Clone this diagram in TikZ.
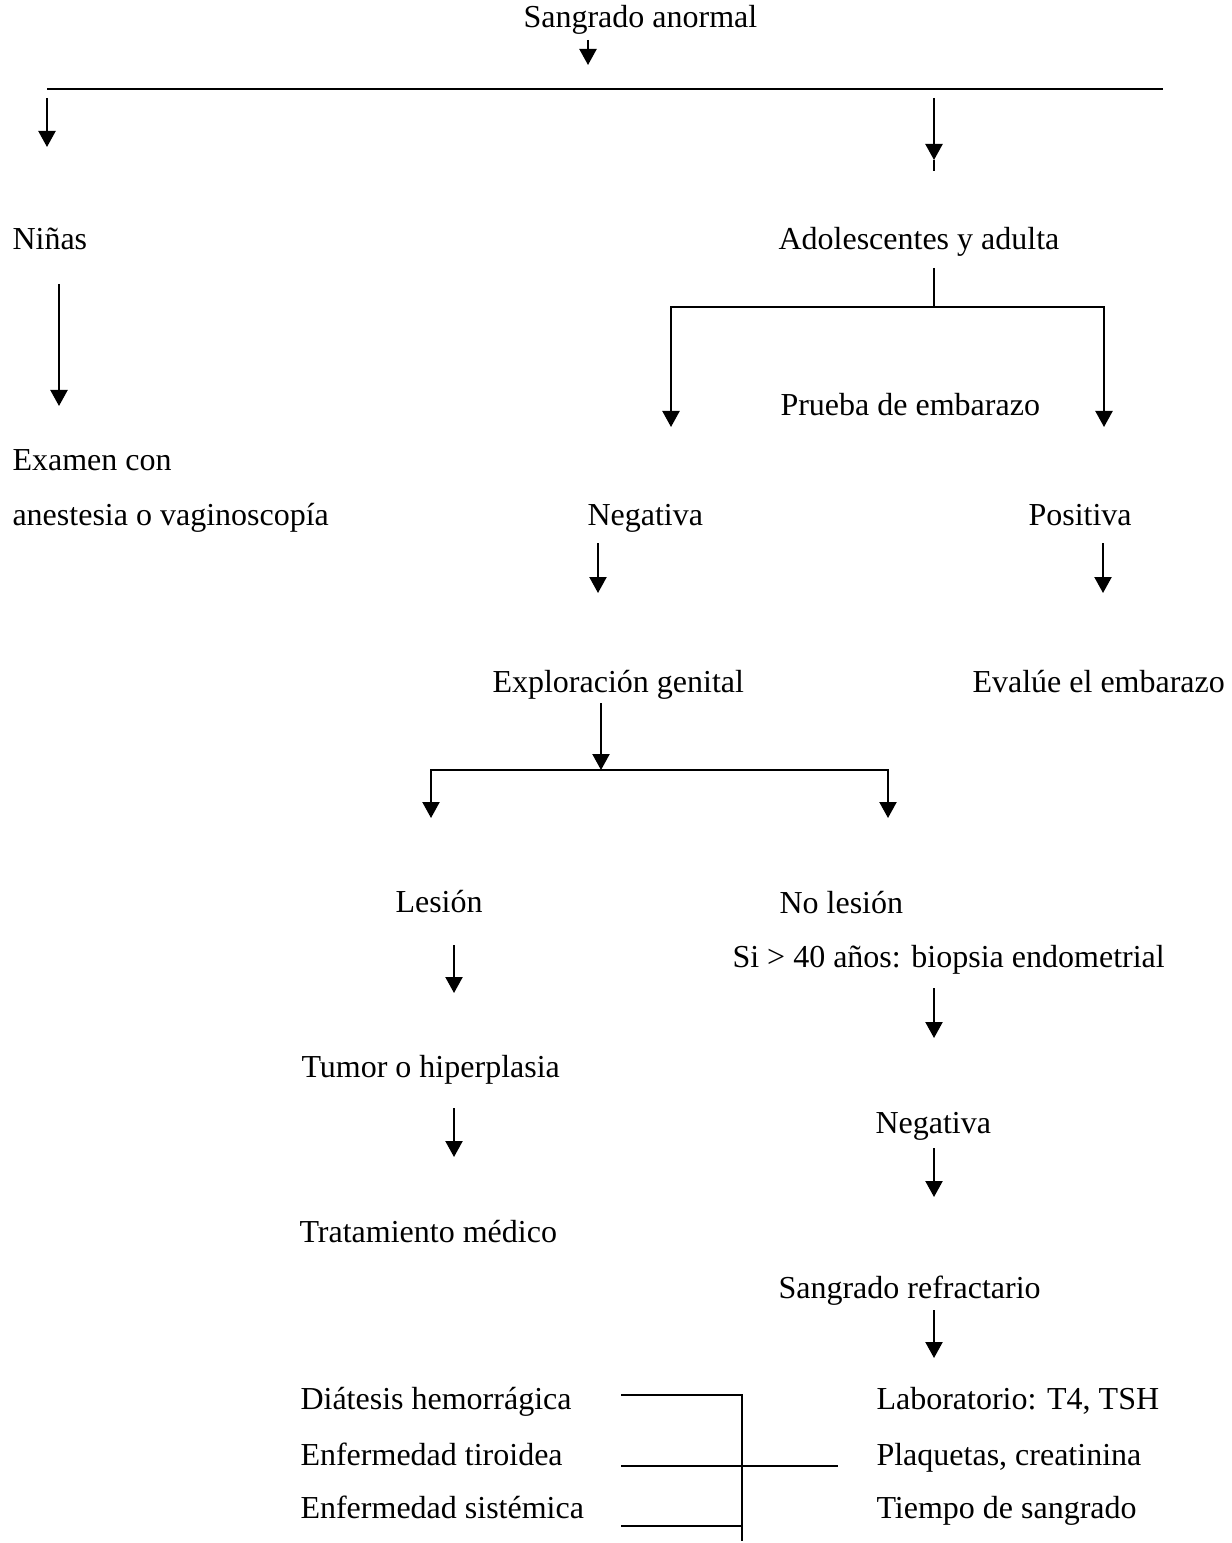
\documentclass[tikz,border=0pt]{standalone}
\usepackage{fontspec}
\setmainfont{Liberation Serif}
\usetikzlibrary{arrows.meta}
\tikzset{
  txt/.style={anchor=base west, inner sep=0pt, font=\fontsize{12}{14}\selectfont},
  ln/.style={line width=0.75pt, line cap=butt},
  arr/.style={ln, -{Triangle[width=6.4pt,length=6pt]}},
  arr2/.style={ln, {Triangle[width=6.4pt,length=6pt]}-{Triangle[width=6.4pt,length=6pt]}},
}
\begin{document}
\begin{tikzpicture}[x=0.375pt, y=-0.375pt]
\useasboundingbox (0,0) rectangle (1232,1543);
% texts
\node[txt] (sa) at (523,28) {Sangrado anormal};
\node[txt] (ninas) at (12,250) {Niñas};
\node[txt] (adol) at (778,250) {Adolescentes y adulta};
\node[txt] (prueba) at (780,415) {Prueba de embarazo};
\node[txt] (exa) at (12,471) {Examen con};
\node[txt] (exb) at (12,525) {anestesia o vaginoscopía};
\node[txt] (neg) at (587,525) {Negativa};
\node[txt] (pos) at (1028,525) {Positiva};
\node[txt] (expl) at (492,692) {Exploración genital};
\node[txt] (eval) at (972,692) {Evalúe el embarazo};
\node[txt] (les) at (395,912) {Lesión};
\node[txt] (noles) at (779,913) {No lesión};
\node[txt] (si) at (732,967) {Si > 40 años: biopsia endometrial};
\node[txt] (tumor) at (301,1077) {Tumor o hiperplasia};
\node[txt] (neg2) at (875,1133) {Negativa};
\node[txt] (trat) at (299,1242) {Tratamiento médico};
\node[txt] (refr) at (778,1298) {Sangrado refractario};
\node[txt] (dia) at (300,1409) {Diátesis hemorrágica};
\node[txt] (tir) at (300,1465) {Enfermedad tiroidea};
\node[txt] (sis) at (300,1518) {Enfermedad sistémica};
\node[txt] (lab) at (876,1409) {Laboratorio: T4, TSH};
\node[txt] (plaq) at (876,1465) {Plaquetas, creatinina};
\node[txt] (tiem) at (876,1518) {Tiempo de sangrado};
% coordinates
\coordinate (t1) at (588,40);   \coordinate (t2) at (588,65);
\coordinate (hl) at (47,89);    \coordinate (hr) at (1163,89);
\coordinate (l1) at (47,98);    \coordinate (l2) at (47,147);
\coordinate (r1) at (934,98);   \coordinate (r2) at (934,160);  \coordinate (r3) at (934,171);
\coordinate (n1) at (59,284);   \coordinate (n2) at (59,406);
\coordinate (a1) at (934,268);  \coordinate (a2) at (934,307);
\coordinate (aL) at (671,307);  \coordinate (aR) at (1104,307);
\coordinate (aL2) at (671,427); \coordinate (aR2) at (1104,427);
\coordinate (g1) at (598,543);  \coordinate (g2) at (598,593);
\coordinate (p1) at (1103,543); \coordinate (p2) at (1103,593);
\coordinate (e1) at (601,703);  \coordinate (e2) at (601,770);
\coordinate (eL) at (431,770);  \coordinate (eR) at (888,770);
\coordinate (eL2) at (431,818); \coordinate (eR2) at (888,818);
\coordinate (s1) at (454,945);  \coordinate (s2) at (454,993);
\coordinate (u1) at (454,1108); \coordinate (u2) at (454,1157);
\coordinate (b1) at (934,988);  \coordinate (b2) at (934,1038);
\coordinate (c1) at (934,1148); \coordinate (c2) at (934,1197);
\coordinate (d1) at (934,1310); \coordinate (d2) at (934,1358);
\coordinate (k1) at (621,1395); \coordinate (k2) at (742,1395); \coordinate (k3) at (742,1541);
\coordinate (m1) at (621,1466); \coordinate (m2) at (838,1466);
\coordinate (q1) at (621,1526); \coordinate (q2) at (742,1526);
% connectors
\draw[arr] (t1) -- (t2);
\draw[ln] (hl) -- (hr);
\draw[arr] (l1) -- (l2);
\draw[arr] (r1) -- (r2);
\draw[ln] (r2) -- (r3);
\draw[arr] (n1) -- (n2);
\draw[ln] (a1) -- (a2);
\draw[arr2] (aL2) -- (aL) -- (aR) -- (aR2);
\draw[arr] (g1) -- (g2);
\draw[arr] (p1) -- (p2);
\draw[arr] (e1) -- (e2);
\draw[arr2] (eL2) -- (eL) -- (eR) -- (eR2);
\draw[arr] (s1) -- (s2);
\draw[arr] (u1) -- (u2);
\draw[arr] (b1) -- (b2);
\draw[arr] (c1) -- (c2);
\draw[arr] (d1) -- (d2);
\draw[ln] (k1) -- (k2) -- (k3);
\draw[ln] (m1) -- (m2);
\draw[ln] (q1) -- (q2);
\end{tikzpicture}
\end{document}
